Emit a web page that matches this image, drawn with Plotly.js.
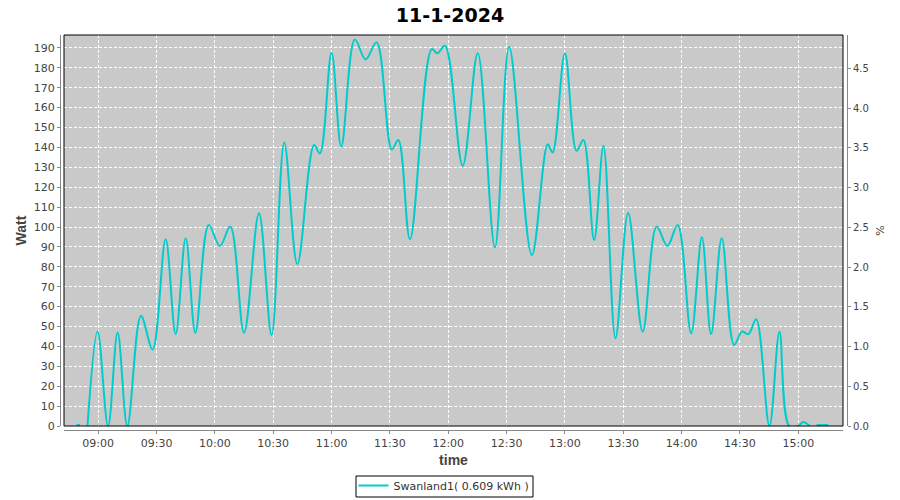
<!DOCTYPE html>
<html>
<head>
<meta charset="utf-8">
<script src="https://cdn.plot.ly/plotly-3.0.1.min.js"></script>
<style>
  html, body { margin: 0; padding: 0; background: #ffffff; }
  #chart { width: 900px; height: 500px; }
</style>
</head>
<body>
<div id="chart"></div>
<script>
// ---- data ----
const chartDate = "2024-01-11";
const chartTitle = "11-1-2024";
const seriesName = "Swanland1( 0.609 kWh )";

const times = [
  "08:48:50", "08:50:35", "08:52:00", "08:54:30", "08:59:40", "09:05:05", "09:10:00", "09:15:00",
  "09:22:00", "09:28:00", "09:34:40", "09:39:50", "09:45:00", "09:50:00", "09:56:50", "10:02:35",
  "10:07:55", "10:15:00", "10:22:40", "10:29:10", "10:35:40", "10:42:25", "10:51:00", "10:54:00",
  "11:00:00", "11:05:00", "11:12:00", "11:17:30", "11:23:10", "11:31:00", "11:34:20", "11:40:20",
  "11:51:30", "11:54:25", "11:58:20", "12:07:25", "12:15:10", "12:24:00", "12:31:20", "12:43:00",
  "12:51:10", "12:53:40", "13:00:00", "13:06:00", "13:09:30", "13:15:00", "13:19:50", "13:26:00",
  "13:32:30", "13:40:00", "13:47:10", "13:52:40", "13:58:00", "14:04:55", "14:10:25", "14:15:10",
  "14:20:40", "14:27:00", "14:31:00", "14:34:25", "14:38:20", "14:45:10", "14:50:20", "14:55:20",
  "15:00:00", "15:02:25", "15:06:00", "15:07:30", "15:09:25", "15:15:25"
];

const watt = [
  0.5, 0.5, null, 0, 47.5, 0, 47, 0,
  55.3, 38.5, 93.8, 46.2, 94.3, 46.9, 101, 90.5,
  100.2, 46.9, 106.9, 45.7, 142.5, 81.4, 141.2, 137,
  187.6, 140.4, 194.3, 184.2, 192.8, 139, 143.7, 93.8,
  189.4, 187.3, 191.1, 130.8, 187.3, 89.8, 190.6, 85.9,
  141.6, 137.5, 187.3, 138.3, 143.7, 93.5, 140.9, 44.1,
  107, 47.4, 100.2, 90.5, 101, 46.6, 94.8, 46.2,
  94.3, 40.7, 47.4, 46.2, 53.6, 0, 47.4, 0,
  0, 2, 0, null, 0.5, 0.5
];

const wattTickStep = 10;
const percentTickStep = 0.5;
const xRange = ["08:42:25", "15:23:00"];
const wattRange = [0, 196.5];
const percentRange = [0, 4.92];

// ---- build ----
const xs = times.map(t => chartDate + " " + t);

// paper area: x 60..847, y 35..430 (px)
const W = 787, H = 395;
const xd = [4 / W, (W - 4) / W];
const yd = [4 / H, 1];
const px2x = p => (p - 60) / W;
const px2y = p => (430 - p) / H;

const tickFont = { family: "DejaVu Sans", size: 11, color: "#444444" };
const gridCol = "#ffffff";
const axisCol = "#888888";

const traces = [
  {
    x: xs,
    y: watt,
    type: "scatter",
    mode: "lines",
    name: seriesName,
    line: { color: "#00cccc", width: 2, shape: "spline", smoothing: 1 },
    connectgaps: false,
    hoverinfo: "x+y"
  },
  {
    x: [],
    y: [],
    type: "scatter",
    mode: "lines",
    yaxis: "y2",
    showlegend: false,
    hoverinfo: "skip"
  }
];

const layout = {
  width: 900,
  height: 500,
  margin: { l: 60, r: 53, t: 35, b: 70, pad: 0, autoexpand: false },
  paper_bgcolor: "#ffffff",
  plot_bgcolor: "#c9c9c9",
  showlegend: true,
  title: {
    text: chartTitle,
    font: { family: "DejaVu Sans", size: 19, color: "#000000", weight: "bold" },
    x: 0.5, xref: "container", xanchor: "center",
    y: 1 - 15 / 500, yref: "container", yanchor: "middle"
  },
  xaxis: {
    type: "date",
    domain: xd,
    anchor: "free",
    position: 0,
    range: xRange.map(t => chartDate + " " + t),
    tick0: chartDate + " 09:00:00",
    dtick: 30 * 60 * 1000,
    tickformat: "%H:%M",
    ticks: "outside",
    ticklen: 3,
    tickcolor: axisCol,
    tickfont: tickFont,
    showline: true,
    linecolor: axisCol,
    linewidth: 1,
    showgrid: true,
    gridcolor: gridCol,
    gridwidth: 1,
    griddash: "3px,2px",
    zeroline: false,
    automargin: false,
    title: {
      text: "time",
      font: { family: "Liberation Sans", size: 14, color: "#444444", weight: "bold" },
      standoff: 5
    },
    fixedrange: true
  },
  yaxis: {
    domain: yd,
    anchor: "free",
    position: 0,
    side: "left",
    range: wattRange,
    dtick: wattTickStep,
    tick0: 0,
    ticks: "outside",
    ticklen: 3,
    tickcolor: axisCol,
    tickfont: tickFont,
    showline: true,
    linecolor: axisCol,
    linewidth: 1,
    showgrid: true,
    gridcolor: gridCol,
    gridwidth: 1,
    griddash: "3px,2px",
    zeroline: false,
    automargin: false,
    title: {
      text: "Watt",
      font: { family: "Liberation Sans", size: 14, color: "#444444", weight: "bold" },
      standoff: 2
    },
    fixedrange: true
  },
  yaxis2: {
    overlaying: "y",
    anchor: "free",
    position: 1,
    side: "right",
    range: percentRange,
    dtick: percentTickStep,
    tick0: 0,
    tickformat: ".1f",
    ticks: "outside",
    ticklen: 3,
    tickcolor: axisCol,
    tickfont: { family: "DejaVu Sans", size: 10, color: "#444444" },
    showline: true,
    linecolor: axisCol,
    linewidth: 1,
    showgrid: false,
    zeroline: false,
    automargin: false,
    title: {
      text: "%",
      font: { family: "DejaVu Sans", size: 11, color: "#444444" },
      standoff: 8
    },
    fixedrange: true
  },
  legend: {
    orientation: "h",
    xref: "paper", yref: "paper",
    x: px2x(444), xanchor: "center",
    y: px2y(471), yanchor: "top",
    bgcolor: "rgba(0,0,0,0)",
    borderwidth: 0,
    font: { family: "DejaVu Sans", size: 11, color: "#333333" },
    itemwidth: 30
  },
  shapes: [
    {
      type: "rect", xref: "paper", yref: "paper",
      x0: xd[0], x1: xd[1], y0: yd[0], y1: yd[1],
      line: { color: "#000000", width: 1 },
      fillcolor: "rgba(0,0,0,0)",
      layer: "above"
    },
    {
      type: "rect", xref: "paper", yref: "paper",
      x0: px2x(356), x1: px2x(533), y0: px2y(497), y1: px2y(476),
      line: { color: "#000000", width: 1 },
      fillcolor: "rgba(0,0,0,0)",
      layer: "above"
    }
  ]
};

Plotly.newPlot("chart", traces, layout, { displayModeBar: false, staticPlot: true });
</script>
</body>
</html>
